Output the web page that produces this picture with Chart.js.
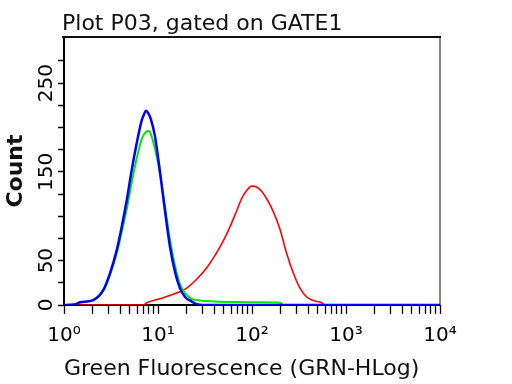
<!DOCTYPE html>
<html>
<head>
<meta charset="utf-8">
<script src="https://cdn.jsdelivr.net/npm/chart.js@4.4.1/dist/chart.umd.min.js"></script>
<style>
  html, body { margin: 0; padding: 0; background: #fff; }
  #wrap { width: 512px; height: 384px; }
</style>
</head>
<body>
<div id="wrap"><canvas id="histChart" width="512" height="384"></canvas></div>
<script>
// Histogram traces (x = GRN-HLog fluorescence, y = count)
const blueX = [1, 1.3, 1.48, 2.05, 2.62, 3.09, 3.64, 4.11, 4.65, 5.25, 5.93, 6.71, 7.1, 7.45, 7.9, 8.36, 9.29, 10.5, 11.9, 13.4, 15.2, 17.1, 19.4, 22.8, 25.8, 30, 10000];
const blueY = [0, 0.5, 3, 5.6, 17, 36, 62, 88, 118, 152, 182, 208, 215, 219, 216, 210, 190, 150, 105, 66, 37, 19, 9, 4, 1, 0, 0];

const greenX = [1, 1.3, 1.48, 2.05, 2.62, 3.09, 3.64, 4.11, 4.65, 5.25, 5.93, 6.71, 7.45, 8.0, 8.36, 9.29, 10.5, 11.9, 13.4, 15.2, 17.1, 19.4, 22.8, 27.9, 40, 70, 120, 200, 215, 10000];
const greenY = [0, 0.5, 3, 5.5, 16, 34, 58, 82, 108, 138, 165, 187, 195, 196, 193, 176, 148, 110, 74, 44, 24, 13, 7, 5, 4, 3.3, 3, 2.6, 0, 0];

const redX = [1, 7.0, 7.6, 10.5, 14.5, 20.2, 25.8, 33.0, 42.1, 51.6, 58.3, 68.7, 77.7, 87.9, 99.3, 112, 127, 143, 169, 199, 234, 275, 324, 382, 449, 551, 600, 10000];
const redY = [0, 0, 2.5, 7, 12, 19, 29, 42, 59, 76, 88, 106, 120, 129, 134, 133, 128, 120, 105, 85, 58, 36, 19, 9, 5, 2.6, 0, 0];

// Axis labels
const xDecades = [1, 10, 100, 1000, 10000];
const xTickLabels = ['10\u2070', '10\u00b9', '10\u00b2', '10\u00b3', '10\u2074'];
const yLabelValues = [0, 50, 150, 250];

const FONT = '"DejaVu Sans", sans-serif';

function toPoints(xs, ys) {
    return xs.map((x, i) => ({ x: x, y: ys[i] }));
}

// minor tick positions for the log axis: 1..9 in every decade
const xTickValues = [];
for (let d = 0; d < xDecades.length - 1; d++) {
    for (let k = 1; k <= 9; k++) xTickValues.push(xDecades[d] * k);
}
xTickValues.push(xDecades[xDecades.length - 1]);

// title and frame drawn around the plot area
const framePlugin = {
    id: 'frame',
    beforeDatasetsDraw(chart) {
        const { ctx, chartArea: a } = chart;
        ctx.save();
        ctx.lineWidth = 2;
        ctx.strokeStyle = '#888';
        ctx.beginPath();
        ctx.moveTo(a.right, a.top);
        ctx.lineTo(a.right, a.bottom);
        ctx.stroke();
        ctx.strokeStyle = '#111';
        ctx.beginPath();
        ctx.moveTo(a.left - 2, a.top);
        ctx.lineTo(a.right + 1, a.top);
        ctx.stroke();
        ctx.restore();
    },
    afterDraw(chart) {
        const ctx = chart.ctx;
        ctx.save();
        ctx.font = '22px ' + FONT;
        ctx.fillStyle = '#111';
        ctx.textBaseline = 'alphabetic';
        ctx.fillText('Plot P03, gated on GATE1', 62, 30);
        ctx.restore();
    }
};

const histChart = new Chart(document.getElementById('histChart').getContext('2d'), {
    type: 'line',
    data: {
        datasets: [
            { label: 'blue', data: toPoints(blueX, blueY), borderColor: '#0000ff', borderWidth: 2.5 },
            { label: 'green', data: toPoints(greenX, greenY), borderColor: '#00e600', borderWidth: 2 },
            { label: 'red', data: toPoints(redX, redY), borderColor: '#ff0000', borderWidth: 1.6 }
        ]
    },
    options: {
        responsive: false,
        animation: false,
        devicePixelRatio: 1,
        layout: { padding: { left: 0, top: 37, right: 72, bottom: 0 } },
        elements: {
            point: { radius: 0 },
            line: { cubicInterpolationMode: 'monotone', fill: false }
        },
        plugins: {
            legend: { display: false },
            tooltip: { enabled: false }
        },
        scales: {
            x: {
                type: 'logarithmic',
                min: 1,
                max: 10000,
                afterBuildTicks: s => {
                    s.ticks = xTickValues.map(v => ({ value: v, major: xDecades.includes(v) }));
                },
                afterFit: s => { s.height = 79; },
                ticks: {
                    autoSkip: false,
                    maxRotation: 0,
                    padding: 10,
                    color: '#000',
                    font: { family: FONT, size: 20 },
                    callback: v => {
                        const i = xDecades.indexOf(v);
                        return i >= 0 ? xTickLabels[i] : '';
                    }
                },
                grid: { drawOnChartArea: false, tickLength: 9, tickColor: '#000', tickWidth: 1.3 },
                border: { color: '#000', width: 2 },
                title: {
                    display: true,
                    text: 'Green Fluorescence (GRN-HLog)',
                    align: 'start',
                    color: '#111',
                    padding: { top: 0, bottom: 2 },
                    font: { family: FONT, size: 22 }
                }
            },
            y: {
                min: 0,
                max: 302,
                afterBuildTicks: s => {
                    s.ticks = s.ticks.filter(t => t.value % 25 === 0);
                },
                afterFit: s => { s.width = 64; },
                ticks: {
                    stepSize: 25,
                    autoSkip: false,
                    minRotation: 90,
                    maxRotation: 90,
                    crossAlign: 'center',
                    padding: -8,
                    color: '#000',
                    font: { family: FONT, size: 20 },
                    callback: v => yLabelValues.includes(v) ? String(v) : ''
                },
                grid: { drawOnChartArea: false, tickLength: 6, tickColor: '#000', tickWidth: 1.5 },
                border: { color: '#000', width: 2 },
                title: {
                    display: true,
                    text: 'Count',
                    color: '#111',
                    padding: { top: 3, bottom: 0 },
                    font: { family: FONT, size: 22, weight: 'bold' }
                }
            }
        }
    },
    plugins: [framePlugin]
});
</script>
</body>
</html>
